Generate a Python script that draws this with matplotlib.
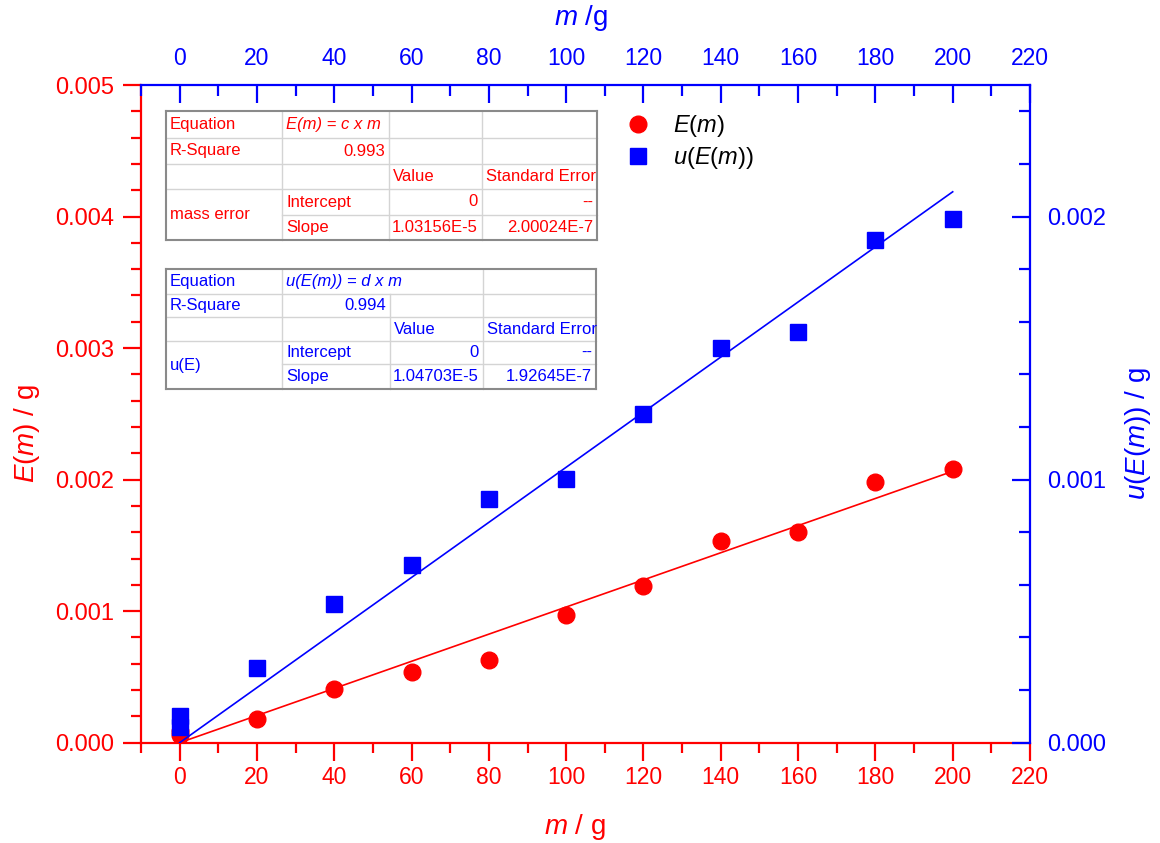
import matplotlib.pyplot as plt
from matplotlib.ticker import MultipleLocator
from matplotlib.lines import Line2D

plt.rcParams['font.family'] = ['Liberation Sans', 'DejaVu Sans']
plt.rcParams['mathtext.fontset'] = 'custom'
plt.rcParams['mathtext.rm'] = 'Liberation Sans'
plt.rcParams['mathtext.it'] = 'Liberation Sans:italic'

# data
mass = [0, 0, 20, 40, 60, 80, 100, 120, 140, 160, 180, 200]
err_E = [0.00006, 0.00009, 0.00018, 0.00041, 0.00054, 0.00063, 0.00097,
         0.00119, 0.00153, 0.00160, 0.00198, 0.00208]
err_u = [0.00006, 0.00010, 0.000283, 0.000526, 0.000676, 0.000928, 0.001003,
         0.00125, 0.00150, 0.00156, 0.00191, 0.00199]

# linear fits through origin (from the fit tables)
slope_E = 1.03156e-5
slope_u = 1.04703e-5
fit_m = [0, 200]

table_E = [
    ["Equation", "E(m) = c x m", "", ""],
    ["R-Square", "0.993", "", ""],
    ["", "", "Value", "Standard Error"],
    ["mass error", "Intercept", "0", "--"],
    ["", "Slope", "1.03156E-5", "2.00024E-7"],
]
table_u = [
    ["Equation", "u(E(m)) = d x m", "", ""],
    ["R-Square", "0.994", "", ""],
    ["", "", "Value", "Standard Error"],
    ["u(E)", "Intercept", "0", "--"],
    ["", "Slope", "1.04703E-5", "1.92645E-7"],
]

RED = '#ff0000'
BLUE = '#0000ff'
W, H = 1160, 843

fig = plt.figure(figsize=(11.6, 8.43), dpi=100)
rect = [141 / W, 1 - 742.7 / H, 889 / W, 657.7 / H]
ax = fig.add_axes(rect)
ax2 = fig.add_axes(rect, facecolor='none')

# red data: bottom / left
ax.plot(fit_m, [slope_E * m for m in fit_m], color=RED, lw=1.2)
ax.plot(mass, err_E, 'o', color=RED, ms=12, mec=RED)
ax.set_xlim(-10, 220)
ax.set_ylim(0, 0.005)

# blue data: top / right
ax2.plot(fit_m, [slope_u * m for m in fit_m], color=BLUE, lw=1.2)
ax2.plot(mass, err_u, 's', color=BLUE, ms=11, mec=BLUE)
ax2.set_xlim(-10, 220)
ax2.set_ylim(0, 0.0025)

for a in (ax, ax2):
    a.xaxis.set_major_locator(MultipleLocator(20))
    a.xaxis.set_minor_locator(MultipleLocator(10))
ax.yaxis.set_major_locator(MultipleLocator(0.001))
ax.yaxis.set_minor_locator(MultipleLocator(0.0002))
ax2.yaxis.set_major_locator(MultipleLocator(0.001))
ax2.yaxis.set_minor_locator(MultipleLocator(0.0002))
ax.yaxis.set_major_formatter(lambda v, p: f'{v:.3f}')
ax2.yaxis.set_major_formatter(lambda v, p: f'{v:.3f}')

# spines
ax.spines['top'].set_visible(False)
ax.spines['right'].set_visible(False)
ax.spines['left'].set_color(RED)
ax.spines['bottom'].set_color(RED)
ax.spines['left'].set_linewidth(1.6)
ax.spines['bottom'].set_linewidth(1.6)
ax2.spines['left'].set_visible(False)
ax2.spines['bottom'].set_visible(False)
ax2.spines['top'].set_color(BLUE)
ax2.spines['right'].set_color(BLUE)
ax2.spines['top'].set_linewidth(1.6)
ax2.spines['right'].set_linewidth(1.6)

ax.tick_params(axis='both', which='both', colors=RED, width=1.6, direction='out')
ax.tick_params(axis='both', which='major', length=13)
ax.tick_params(axis='both', which='minor', length=7)
ax.tick_params(axis='x', labelsize=16.5, pad=4)
ax.tick_params(axis='y', labelsize=17, pad=6)

ax2.xaxis.tick_top()
ax2.yaxis.tick_right()
ax2.tick_params(axis='both', which='both', colors=BLUE, width=1.6, direction='in')
ax2.tick_params(axis='both', which='major', length=13)
ax2.tick_params(axis='both', which='minor', length=8)
ax2.tick_params(axis='x', labelsize=16.5, pad=11)
ax2.tick_params(axis='y', labelsize=17, pad=12)

# axis titles
fig.text(575 / W, 1 - 827 / H, r'$m$ / g', color=RED, fontsize=20,
         ha='center', va='center')
fig.text(581 / W, 1 - 18 / H, r'$m$ /g', color=BLUE, fontsize=20,
         ha='center', va='center')
fig.text(27 / W, 1 - 434 / H, r'$E$($m$) / g', color=RED, fontsize=20,
         ha='center', va='center', rotation=90)
fig.text(1138 / W, 1 - 434 / H, r'$u$($E$($m$)) / g', color=BLUE, fontsize=20,
         ha='center', va='center', rotation=90)

# legend
handles = [Line2D([], [], ls='', marker='o', color=RED, ms=12),
           Line2D([], [], ls='', marker='s', color=BLUE, ms=11)]
labels = [r'$E$($m$)', r'$u$($E$($m$))']
ax2.legend(handles, labels, loc='upper left',
           bbox_to_anchor=((626 - 141) / 889, (742.7 - 113) / 657.7),
           frameon=False, fontsize=17, handlelength=1.0, handletextpad=1.0,
           labelspacing=0.25, borderpad=0, borderaxespad=0)


def fx(x):
    return x / W


def fy(y):
    return 1 - y / H


def hline(x0, x1, y, color, lw):
    fig.add_artist(Line2D([fx(x0), fx(x1)], [fy(y), fy(y)],
                          transform=fig.transFigure, color=color, lw=lw))


def vline(x, y0, y1, color, lw):
    fig.add_artist(Line2D([fx(x), fx(x)], [fy(y0), fy(y1)],
                          transform=fig.transFigure, color=color, lw=lw))


def draw_table(rows, cols, ys, color, split_row0):
    inner = '#d4d4d4'
    outer = '#8a8a8a'
    # inner lines
    for y in ys[1:4]:
        hline(cols[0], cols[4], y, inner, 1.0)
    hline(cols[1], cols[4], ys[4], inner, 1.0)
    vline(cols[1], ys[0], ys[5], inner, 1.0)
    vline(cols[3], ys[0], ys[5], inner, 1.0)
    vline(cols[2], ys[0] if split_row0 else ys[1], ys[5], inner, 1.0)
    # outer border
    hline(cols[0], cols[4], ys[0], outer, 1.5)
    hline(cols[0], cols[4], ys[5], outer, 1.5)
    vline(cols[0], ys[0], ys[5], outer, 1.5)
    vline(cols[4], ys[0], ys[5], outer, 1.5)

    fs = 12
    for r, row in enumerate(rows):
        yc = (ys[r] + ys[r + 1]) / 2
        for c, txt in enumerate(row):
            if not txt:
                continue
            if c == 0 and r == 3:
                fig.text(fx(cols[0] + 4), fy((ys[3] + ys[5]) / 2), txt,
                         color=color, fontsize=fs, va='center', ha='left')
                continue
            style = 'italic' if (r == 0 and c == 1) else 'normal'
            right = (r == 1 and c == 1) or (r >= 3 and c >= 2)
            if right:
                fig.text(fx(cols[c + 1] - 4), fy(yc), txt, color=color,
                         fontsize=fs, va='center', ha='right')
            else:
                fig.text(fx(cols[c] + 4), fy(yc), txt, color=color,
                         fontsize=fs, va='center', ha='left', style=style)


draw_table(table_E, [166, 282, 389, 482, 597], [111, 138, 164, 189, 215, 240],
           RED, True)
draw_table(table_u, [166, 282, 390, 483, 596], [269, 294, 317, 341, 364, 389],
           BLUE, False)

fig.savefig('out.png', dpi=100)
